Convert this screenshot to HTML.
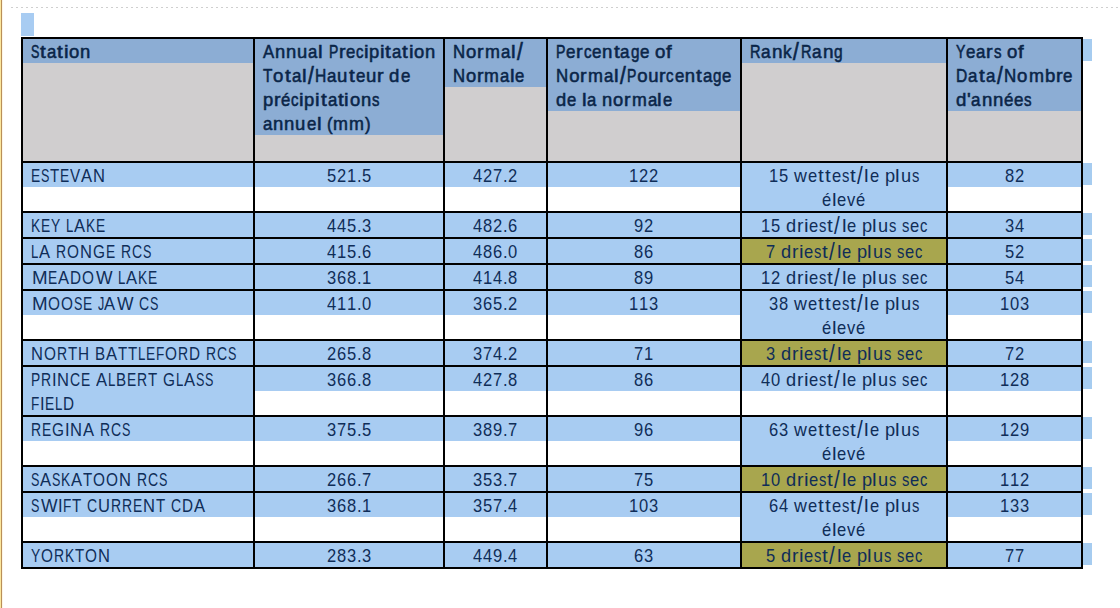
<!DOCTYPE html>
<html><head><meta charset="utf-8"><style>
html,body{margin:0;padding:0;background:#fff;width:1120px;height:608px;overflow:hidden;position:relative}
i{position:absolute;display:block}
p{position:absolute;margin:0;white-space:nowrap;font-family:"Liberation Sans",sans-serif;font-size:18.5px;line-height:24px;color:#0f2d58}
p.h{color:#0a2548;-webkit-text-stroke:0.55px #0a2548}
s{display:inline-block;text-decoration:none;transform-origin:0 0}
</style></head><body>
<i style="left:0px;top:0px;width:1px;height:608px;background:#fbe69c"></i>
<i style="left:1px;top:0px;width:1px;height:608px;background:#b98f58"></i>
<i style="left:2px;top:0px;width:1px;height:608px;background:#fdf6e6"></i>
<i style="left:11px;top:7px;width:1109px;height:1px;background:repeating-linear-gradient(90deg,#cfcfcf 0 2px,transparent 2px 5px)"></i>
<i style="left:21px;top:13px;width:13px;height:23px;background:#a8ccf2"></i>
<i style="left:23px;top:39px;width:230px;height:122px;background:#d0cecf"></i>
<i style="left:23px;top:39px;width:230px;height:24px;background:#8cadd4"></i>
<i style="left:255px;top:39px;width:188px;height:122px;background:#d0cecf"></i>
<i style="left:255px;top:39px;width:188px;height:96px;background:#8cadd4"></i>
<i style="left:445px;top:39px;width:101px;height:122px;background:#d0cecf"></i>
<i style="left:445px;top:39px;width:101px;height:48px;background:#8cadd4"></i>
<i style="left:548px;top:39px;width:192px;height:122px;background:#d0cecf"></i>
<i style="left:548px;top:39px;width:192px;height:72px;background:#8cadd4"></i>
<i style="left:742px;top:39px;width:204px;height:122px;background:#d0cecf"></i>
<i style="left:742px;top:39px;width:204px;height:24px;background:#8cadd4"></i>
<i style="left:948px;top:39px;width:133px;height:122px;background:#d0cecf"></i>
<i style="left:948px;top:39px;width:133px;height:72px;background:#8cadd4"></i>
<i style="left:1083px;top:39px;width:9px;height:22px;background:#a6ccf0"></i>
<p class="h" style="left:30.39px;top:40px;"><s style="width:12.339px;margin-left:0.365px;margin-right:-3.580px;transform:scaleX(0.680)">S</s><s style="width:5.140px;margin-left:0.670px;margin-right:1.287px;transform:scaleX(1.120)">t</s><s style="width:10.289px;margin-left:0.406px;margin-right:-0.556px;transform:scaleX(0.907)">a</s><s style="width:5.140px;margin-left:0.670px;margin-right:1.287px;transform:scaleX(1.120)">t</s><s style="width:4.110px;margin-left:0.233px;margin-right:0.726px;transform:scaleX(1.120)">i</s><s style="width:10.289px;margin-left:0.446px;margin-right:0.417px;transform:scaleX(0.997)">o</s><s style="width:10.289px;margin-left:0.446px;margin-right:0.417px;transform:scaleX(0.997)">n</s></p>
<p class="h" style="left:262.59px;top:40px;word-spacing:-0.090px;"><s style="width:12.339px;margin-left:0.485px;margin-right:-0.704px;transform:scaleX(0.904)">A</s><s style="width:10.289px;margin-left:0.444px;margin-right:0.377px;transform:scaleX(0.993)">n</s><s style="width:10.289px;margin-left:0.444px;margin-right:0.377px;transform:scaleX(0.993)">n</s><s style="width:10.289px;margin-left:0.444px;margin-right:0.377px;transform:scaleX(0.993)">u</s><s style="width:10.289px;margin-left:0.404px;margin-right:-0.593px;transform:scaleX(0.903)">a</s><s style="width:4.110px;margin-left:0.223px;margin-right:0.717px;transform:scaleX(1.120)">l</s> <s style="width:12.339px;margin-left:0.404px;margin-right:-2.643px;transform:scaleX(0.753)">P</s><s style="width:6.161px;margin-left:0.283px;margin-right:0.627px;transform:scaleX(1.056)">r</s><s style="width:10.289px;margin-left:0.404px;margin-right:-0.593px;transform:scaleX(0.903)">e</s><s style="width:9.250px;margin-left:0.323px;margin-right:-1.493px;transform:scaleX(0.804)">c</s><s style="width:4.110px;margin-left:0.223px;margin-right:0.717px;transform:scaleX(1.120)">i</s><s style="width:10.289px;margin-left:0.444px;margin-right:0.377px;transform:scaleX(0.993)">p</s><s style="width:4.110px;margin-left:0.223px;margin-right:0.717px;transform:scaleX(1.120)">i</s><s style="width:5.140px;margin-left:0.657px;margin-right:1.273px;transform:scaleX(1.120)">t</s><s style="width:10.289px;margin-left:0.404px;margin-right:-0.593px;transform:scaleX(0.903)">a</s><s style="width:5.140px;margin-left:0.657px;margin-right:1.273px;transform:scaleX(1.120)">t</s><s style="width:4.110px;margin-left:0.223px;margin-right:0.717px;transform:scaleX(1.120)">i</s><s style="width:10.289px;margin-left:0.444px;margin-right:0.377px;transform:scaleX(0.993)">o</s><s style="width:10.289px;margin-left:0.444px;margin-right:0.377px;transform:scaleX(0.993)">n</s></p>
<p class="h" style="left:262.58px;top:64px;word-spacing:-0.035px;"><s style="width:11.301px;margin-left:0.408px;margin-right:-1.499px;transform:scaleX(0.831)">T</s><s style="width:10.289px;margin-left:0.449px;margin-right:0.493px;transform:scaleX(1.004)">o</s><s style="width:5.140px;margin-left:0.695px;margin-right:1.312px;transform:scaleX(1.120)">t</s><s style="width:10.289px;margin-left:0.408px;margin-right:-0.487px;transform:scaleX(0.913)">a</s><s style="width:4.110px;margin-left:0.251px;margin-right:0.744px;transform:scaleX(1.120)">l</s><s style="width:5.140px;margin-left:1.206px;margin-right:1.822px;transform-origin:0 5px;transform:translateY(-1.4px) scale(1.120,1.28)">/</s><s style="width:13.360px;margin-left:0.490px;margin-right:-1.598px;transform:scaleX(0.844)">H</s><s style="width:10.289px;margin-left:0.408px;margin-right:-0.487px;transform:scaleX(0.913)">a</s><s style="width:10.289px;margin-left:0.449px;margin-right:0.493px;transform:scaleX(1.004)">u</s><s style="width:5.140px;margin-left:0.695px;margin-right:1.312px;transform:scaleX(1.120)">t</s><s style="width:10.289px;margin-left:0.408px;margin-right:-0.487px;transform:scaleX(0.913)">e</s><s style="width:10.289px;margin-left:0.449px;margin-right:0.493px;transform:scaleX(1.004)">u</s><s style="width:6.161px;margin-left:0.286px;margin-right:0.700px;transform:scaleX(1.067)">r</s> <s style="width:10.289px;margin-left:0.449px;margin-right:0.493px;transform:scaleX(1.004)">d</s><s style="width:10.289px;margin-left:0.408px;margin-right:-0.487px;transform:scaleX(0.913)">e</s></p>
<p class="h" style="left:262.59px;top:88px;"><s style="width:10.289px;margin-left:0.445px;margin-right:0.382px;transform:scaleX(0.994)">p</s><s style="width:6.161px;margin-left:0.283px;margin-right:0.630px;transform:scaleX(1.056)">r</s><s style="width:10.289px;margin-left:0.404px;margin-right:-0.588px;transform:scaleX(0.904)">é</s><s style="width:9.250px;margin-left:0.323px;margin-right:-1.489px;transform:scaleX(0.804)">c</s><s style="width:4.110px;margin-left:0.225px;margin-right:0.718px;transform:scaleX(1.120)">i</s><s style="width:10.289px;margin-left:0.445px;margin-right:0.382px;transform:scaleX(0.994)">p</s><s style="width:4.110px;margin-left:0.225px;margin-right:0.718px;transform:scaleX(1.120)">i</s><s style="width:5.140px;margin-left:0.659px;margin-right:1.275px;transform:scaleX(1.120)">t</s><s style="width:10.289px;margin-left:0.404px;margin-right:-0.588px;transform:scaleX(0.904)">a</s><s style="width:5.140px;margin-left:0.659px;margin-right:1.275px;transform:scaleX(1.120)">t</s><s style="width:4.110px;margin-left:0.225px;margin-right:0.718px;transform:scaleX(1.120)">i</s><s style="width:10.289px;margin-left:0.445px;margin-right:0.382px;transform:scaleX(0.994)">o</s><s style="width:10.289px;margin-left:0.445px;margin-right:0.382px;transform:scaleX(0.994)">n</s><s style="width:9.250px;margin-left:0.323px;margin-right:-1.489px;transform:scaleX(0.804)">s</s></p>
<p class="h" style="left:262.58px;top:112px;word-spacing:-0.064px;"><s style="width:10.289px;margin-left:0.406px;margin-right:-0.543px;transform:scaleX(0.908)">a</s><s style="width:10.289px;margin-left:0.447px;margin-right:0.432px;transform:scaleX(0.999)">n</s><s style="width:10.289px;margin-left:0.447px;margin-right:0.432px;transform:scaleX(0.999)">n</s><s style="width:10.289px;margin-left:0.447px;margin-right:0.432px;transform:scaleX(0.999)">u</s><s style="width:10.289px;margin-left:0.406px;margin-right:-0.543px;transform:scaleX(0.908)">e</s><s style="width:4.110px;margin-left:0.236px;margin-right:0.730px;transform:scaleX(1.120)">l</s> <s style="width:6.161px;margin-left:0.244px;margin-right:-0.313px;transform:scaleX(0.910)">(</s><s style="width:15.411px;margin-left:0.650px;margin-right:0.183px;transform:scaleX(0.970)">m</s><s style="width:15.411px;margin-left:0.650px;margin-right:0.183px;transform:scaleX(0.970)">m</s><s style="width:6.161px;margin-left:0.244px;margin-right:-0.313px;transform:scaleX(0.910)">)</s></p>
<p class="h" style="left:452.59px;top:40px;"><s style="width:13.360px;margin-left:0.528px;margin-right:-0.697px;transform:scaleX(0.908)">N</s><s style="width:10.289px;margin-left:0.446px;margin-right:0.426px;transform:scaleX(0.998)">o</s><s style="width:6.161px;margin-left:0.284px;margin-right:0.658px;transform:scaleX(1.061)">r</s><s style="width:15.411px;margin-left:0.649px;margin-right:0.175px;transform:scaleX(0.969)">m</s><s style="width:10.289px;margin-left:0.406px;margin-right:-0.548px;transform:scaleX(0.907)">a</s><s style="width:4.110px;margin-left:0.235px;margin-right:0.728px;transform:scaleX(1.120)">l</s><s style="width:5.140px;margin-left:1.180px;margin-right:1.797px;transform-origin:0 5px;transform:translateY(-1.4px) scale(1.120,1.28)">/</s></p>
<p class="h" style="left:452.59px;top:64px;"><s style="width:13.360px;margin-left:0.524px;margin-right:-0.773px;transform:scaleX(0.903)">N</s><s style="width:10.289px;margin-left:0.444px;margin-right:0.362px;transform:scaleX(0.992)">o</s><s style="width:6.161px;margin-left:0.282px;margin-right:0.617px;transform:scaleX(1.054)">r</s><s style="width:15.411px;margin-left:0.645px;margin-right:0.081px;transform:scaleX(0.963)">m</s><s style="width:10.289px;margin-left:0.403px;margin-right:-0.607px;transform:scaleX(0.902)">a</s><s style="width:4.110px;margin-left:0.220px;margin-right:0.713px;transform:scaleX(1.120)">l</s><s style="width:10.289px;margin-left:0.403px;margin-right:-0.607px;transform:scaleX(0.902)">e</s></p>
<p class="h" style="left:555.58px;top:40px;word-spacing:-0.015px;"><s style="width:12.339px;margin-left:0.410px;margin-right:-2.499px;transform:scaleX(0.764)">P</s><s style="width:10.289px;margin-left:0.410px;margin-right:-0.449px;transform:scaleX(0.917)">e</s><s style="width:6.161px;margin-left:0.287px;margin-right:0.727px;transform:scaleX(1.071)">r</s><s style="width:9.250px;margin-left:0.328px;margin-right:-1.378px;transform:scaleX(0.816)">c</s><s style="width:10.289px;margin-left:0.410px;margin-right:-0.449px;transform:scaleX(0.917)">e</s><s style="width:10.289px;margin-left:0.451px;margin-right:0.535px;transform:scaleX(1.008)">n</s><s style="width:5.140px;margin-left:0.709px;margin-right:1.326px;transform:scaleX(1.120)">t</s><s style="width:10.289px;margin-left:0.410px;margin-right:-0.449px;transform:scaleX(0.917)">a</s><s style="width:10.289px;margin-left:0.369px;margin-right:-1.433px;transform:scaleX(0.825)">g</s><s style="width:10.289px;margin-left:0.410px;margin-right:-0.449px;transform:scaleX(0.917)">e</s> <s style="width:10.289px;margin-left:0.451px;margin-right:0.535px;transform:scaleX(1.008)">o</s><s style="width:5.140px;margin-left:0.246px;margin-right:0.764px;transform:scaleX(1.101)">f</s></p>
<p class="h" style="left:555.58px;top:64px;"><s style="width:13.360px;margin-left:0.528px;margin-right:-0.677px;transform:scaleX(0.910)">N</s><s style="width:10.289px;margin-left:0.447px;margin-right:0.443px;transform:scaleX(1.000)">o</s><s style="width:6.161px;margin-left:0.285px;margin-right:0.669px;transform:scaleX(1.062)">r</s><s style="width:15.411px;margin-left:0.650px;margin-right:0.199px;transform:scaleX(0.971)">m</s><s style="width:10.289px;margin-left:0.407px;margin-right:-0.533px;transform:scaleX(0.909)">a</s><s style="width:4.110px;margin-left:0.239px;margin-right:0.732px;transform:scaleX(1.120)">l</s><s style="width:5.140px;margin-left:1.187px;margin-right:1.804px;transform-origin:0 5px;transform:translateY(-1.4px) scale(1.120,1.28)">/</s><s style="width:12.339px;margin-left:0.407px;margin-right:-2.583px;transform:scaleX(0.758)">P</s><s style="width:10.289px;margin-left:0.447px;margin-right:0.443px;transform:scaleX(1.000)">o</s><s style="width:10.289px;margin-left:0.447px;margin-right:0.443px;transform:scaleX(1.000)">u</s><s style="width:6.161px;margin-left:0.285px;margin-right:0.669px;transform:scaleX(1.062)">r</s><s style="width:9.250px;margin-left:0.325px;margin-right:-1.445px;transform:scaleX(0.809)">c</s><s style="width:10.289px;margin-left:0.407px;margin-right:-0.533px;transform:scaleX(0.909)">e</s><s style="width:10.289px;margin-left:0.447px;margin-right:0.443px;transform:scaleX(1.000)">n</s><s style="width:5.140px;margin-left:0.679px;margin-right:1.295px;transform:scaleX(1.120)">t</s><s style="width:10.289px;margin-left:0.407px;margin-right:-0.533px;transform:scaleX(0.909)">a</s><s style="width:10.289px;margin-left:0.366px;margin-right:-1.508px;transform:scaleX(0.818)">g</s><s style="width:10.289px;margin-left:0.407px;margin-right:-0.533px;transform:scaleX(0.909)">e</s></p>
<p class="h" style="left:555.59px;top:88px;word-spacing:-0.105px;"><s style="width:10.289px;margin-left:0.443px;margin-right:0.345px;transform:scaleX(0.990)">d</s><s style="width:10.289px;margin-left:0.403px;margin-right:-0.621px;transform:scaleX(0.900)">e</s> <s style="width:4.110px;margin-left:0.216px;margin-right:0.709px;transform:scaleX(1.120)">l</s><s style="width:10.289px;margin-left:0.403px;margin-right:-0.621px;transform:scaleX(0.900)">a</s> <s style="width:10.289px;margin-left:0.443px;margin-right:0.345px;transform:scaleX(0.990)">n</s><s style="width:10.289px;margin-left:0.443px;margin-right:0.345px;transform:scaleX(0.990)">o</s><s style="width:6.161px;margin-left:0.282px;margin-right:0.607px;transform:scaleX(1.053)">r</s><s style="width:15.411px;margin-left:0.644px;margin-right:0.057px;transform:scaleX(0.962)">m</s><s style="width:10.289px;margin-left:0.403px;margin-right:-0.621px;transform:scaleX(0.900)">a</s><s style="width:4.110px;margin-left:0.216px;margin-right:0.709px;transform:scaleX(1.120)">l</s><s style="width:10.289px;margin-left:0.403px;margin-right:-0.621px;transform:scaleX(0.900)">e</s></p>
<p class="h" style="left:749.56px;top:40px;"><s style="width:13.360px;margin-left:0.457px;margin-right:-2.392px;transform:scaleX(0.787)">R</s><s style="width:10.289px;margin-left:0.415px;margin-right:-0.318px;transform:scaleX(0.929)">a</s><s style="width:10.289px;margin-left:0.457px;margin-right:0.679px;transform:scaleX(1.022)">n</s><s style="width:9.250px;margin-left:0.374px;margin-right:-0.276px;transform:scaleX(0.930)">k</s><s style="width:5.140px;margin-left:1.276px;margin-right:1.893px;transform-origin:0 5px;transform:translateY(-1.4px) scale(1.120,1.28)">/</s><s style="width:13.360px;margin-left:0.457px;margin-right:-2.392px;transform:scaleX(0.787)">R</s><s style="width:10.289px;margin-left:0.415px;margin-right:-0.318px;transform:scaleX(0.929)">a</s><s style="width:10.289px;margin-left:0.457px;margin-right:0.679px;transform:scaleX(1.022)">n</s><s style="width:10.289px;margin-left:0.374px;margin-right:-1.315px;transform:scaleX(0.836)">g</s></p>
<p class="h" style="left:955.58px;top:40px;word-spacing:-0.040px;"><s style="width:12.339px;margin-left:0.408px;margin-right:-2.547px;transform:scaleX(0.760)">Y</s><s style="width:10.289px;margin-left:0.408px;margin-right:-0.497px;transform:scaleX(0.912)">e</s><s style="width:10.289px;margin-left:0.408px;margin-right:-0.497px;transform:scaleX(0.912)">a</s><s style="width:6.161px;margin-left:0.286px;margin-right:0.694px;transform:scaleX(1.066)">r</s><s style="width:9.250px;margin-left:0.326px;margin-right:-1.416px;transform:scaleX(0.812)">s</s> <s style="width:10.289px;margin-left:0.449px;margin-right:0.482px;transform:scaleX(1.003)">o</s><s style="width:5.140px;margin-left:0.245px;margin-right:0.735px;transform:scaleX(1.095)">f</s></p>
<p class="h" style="left:955.58px;top:64px;"><s style="width:13.360px;margin-left:0.490px;margin-right:-1.606px;transform:scaleX(0.843)">D</s><s style="width:10.289px;margin-left:0.408px;margin-right:-0.493px;transform:scaleX(0.912)">a</s><s style="width:5.140px;margin-left:0.693px;margin-right:1.310px;transform:scaleX(1.120)">t</s><s style="width:10.289px;margin-left:0.408px;margin-right:-0.493px;transform:scaleX(0.912)">a</s><s style="width:5.140px;margin-left:1.203px;margin-right:1.820px;transform-origin:0 5px;transform:translateY(-1.4px) scale(1.120,1.28)">/</s><s style="width:13.360px;margin-left:0.531px;margin-right:-0.626px;transform:scaleX(0.913)">N</s><s style="width:10.289px;margin-left:0.449px;margin-right:0.486px;transform:scaleX(1.004)">o</s><s style="width:15.411px;margin-left:0.653px;margin-right:0.262px;transform:scaleX(0.975)">m</s><s style="width:10.289px;margin-left:0.449px;margin-right:0.486px;transform:scaleX(1.004)">b</s><s style="width:6.161px;margin-left:0.286px;margin-right:0.696px;transform:scaleX(1.067)">r</s><s style="width:10.289px;margin-left:0.408px;margin-right:-0.493px;transform:scaleX(0.912)">e</s></p>
<p class="h" style="left:955.58px;top:88px;"><s style="width:10.289px;margin-left:0.450px;margin-right:0.517px;transform:scaleX(1.006)">d</s><s style="width:3.532px;margin-left:0.164px;margin-right:0.397px;transform:scaleX(1.066)">'</s><s style="width:10.289px;margin-left:0.409px;margin-right:-0.465px;transform:scaleX(0.915)">a</s><s style="width:10.289px;margin-left:0.450px;margin-right:0.517px;transform:scaleX(1.006)">n</s><s style="width:10.289px;margin-left:0.450px;margin-right:0.517px;transform:scaleX(1.006)">n</s><s style="width:10.289px;margin-left:0.409px;margin-right:-0.465px;transform:scaleX(0.915)">é</s><s style="width:10.289px;margin-left:0.409px;margin-right:-0.465px;transform:scaleX(0.915)">e</s><s style="width:9.250px;margin-left:0.327px;margin-right:-1.391px;transform:scaleX(0.814)">s</s></p>
<i style="left:23px;top:163px;width:230px;height:24px;background:#a8ccf2"></i>
<i style="left:255px;top:163px;width:188px;height:24px;background:#a8ccf2"></i>
<i style="left:445px;top:163px;width:101px;height:24px;background:#a8ccf2"></i>
<i style="left:548px;top:163px;width:192px;height:24px;background:#a8ccf2"></i>
<i style="left:742px;top:163px;width:204px;height:48px;background:#a8ccf2"></i>
<i style="left:948px;top:163px;width:133px;height:24px;background:#a8ccf2"></i>
<i style="left:1083px;top:163px;width:9px;height:22px;background:#a6ccf0"></i>
<p class="t" style="left:30.90px;top:164px;"><s style="width:12.339px;margin-left:0.400px;margin-right:-2.739px;transform:scaleX(0.746)">E</s><s style="width:12.339px;margin-left:0.305px;margin-right:-3.644px;transform:scaleX(0.680)">S</s><s style="width:11.301px;margin-left:0.400px;margin-right:-1.701px;transform:scaleX(0.814)">T</s><s style="width:12.339px;margin-left:0.400px;margin-right:-2.739px;transform:scaleX(0.746)">E</s><s style="width:12.339px;margin-left:0.440px;margin-right:-1.779px;transform:scaleX(0.820)">V</s><s style="width:12.339px;margin-left:0.480px;margin-right:-0.819px;transform:scaleX(0.895)">A</s><s style="width:13.360px;margin-left:0.520px;margin-right:-0.880px;transform:scaleX(0.895)">N</s></p>
<p class="t" style="left:326.50px;top:164px;"><s style="width:10.289px;margin-left:0.400px;margin-right:-0.689px;transform:scaleX(0.894)">5</s><s style="width:10.289px;margin-left:0.400px;margin-right:-0.689px;transform:scaleX(0.894)">2</s><s style="width:10.289px;margin-left:0.400px;margin-right:-0.689px;transform:scaleX(0.894)">1</s><s style="width:5.140px;margin-left:0.200px;margin-right:-0.340px;transform:scaleX(0.895)">.</s><s style="width:10.289px;margin-left:0.400px;margin-right:-0.689px;transform:scaleX(0.894)">5</s></p>
<p class="t" style="left:473.00px;top:164px;"><s style="width:10.289px;margin-left:0.400px;margin-right:-0.689px;transform:scaleX(0.894)">4</s><s style="width:10.289px;margin-left:0.400px;margin-right:-0.689px;transform:scaleX(0.894)">2</s><s style="width:10.289px;margin-left:0.400px;margin-right:-0.689px;transform:scaleX(0.894)">7</s><s style="width:5.140px;margin-left:0.200px;margin-right:-0.340px;transform:scaleX(0.895)">.</s><s style="width:10.289px;margin-left:0.400px;margin-right:-0.689px;transform:scaleX(0.894)">2</s></p>
<p class="t" style="left:629.00px;top:164px;"><s style="width:10.289px;margin-left:0.400px;margin-right:-0.689px;transform:scaleX(0.894)">1</s><s style="width:10.289px;margin-left:0.400px;margin-right:-0.689px;transform:scaleX(0.894)">2</s><s style="width:10.289px;margin-left:0.400px;margin-right:-0.689px;transform:scaleX(0.894)">2</s></p>
<p class="t" style="left:768.50px;top:164px;word-spacing:-0.140px;"><s style="width:10.289px;margin-left:0.400px;margin-right:-0.689px;transform:scaleX(0.894)">1</s><s style="width:10.289px;margin-left:0.400px;margin-right:-0.689px;transform:scaleX(0.894)">5</s> <s style="width:13.360px;margin-left:0.560px;margin-right:0.080px;transform:scaleX(0.964)">w</s><s style="width:10.289px;margin-left:0.400px;margin-right:-0.689px;transform:scaleX(0.894)">e</s><s style="width:5.140px;margin-left:0.622px;margin-right:1.238px;transform:scaleX(1.120)">t</s><s style="width:5.140px;margin-left:0.622px;margin-right:1.238px;transform:scaleX(1.120)">t</s><s style="width:10.289px;margin-left:0.400px;margin-right:-0.689px;transform:scaleX(0.894)">e</s><s style="width:9.250px;margin-left:0.320px;margin-right:-1.570px;transform:scaleX(0.796)">s</s><s style="width:5.140px;margin-left:0.622px;margin-right:1.238px;transform:scaleX(1.120)">t</s><s style="width:5.140px;margin-left:1.122px;margin-right:1.738px;transform-origin:0 5px;transform:translateY(-1.4px) scale(1.120,1.28)">/</s><s style="width:4.110px;margin-left:0.200px;margin-right:0.690px;transform:scaleX(1.119)">l</s><s style="width:10.289px;margin-left:0.400px;margin-right:-0.689px;transform:scaleX(0.894)">e</s> <s style="width:10.289px;margin-left:0.440px;margin-right:0.271px;transform:scaleX(0.984)">p</s><s style="width:4.110px;margin-left:0.200px;margin-right:0.690px;transform:scaleX(1.119)">l</s><s style="width:10.289px;margin-left:0.440px;margin-right:0.271px;transform:scaleX(0.984)">u</s><s style="width:9.250px;margin-left:0.320px;margin-right:-1.570px;transform:scaleX(0.796)">s</s></p>
<p class="t" style="left:822.00px;top:188px;"><s style="width:10.289px;margin-left:0.400px;margin-right:-0.689px;transform:scaleX(0.894)">é</s><s style="width:4.110px;margin-left:0.200px;margin-right:0.690px;transform:scaleX(1.119)">l</s><s style="width:10.289px;margin-left:0.400px;margin-right:-0.689px;transform:scaleX(0.894)">e</s><s style="width:9.250px;margin-left:0.360px;margin-right:-0.610px;transform:scaleX(0.895)">v</s><s style="width:10.289px;margin-left:0.400px;margin-right:-0.689px;transform:scaleX(0.894)">é</s></p>
<p class="t" style="left:1004.50px;top:164px;"><s style="width:10.289px;margin-left:0.400px;margin-right:-0.689px;transform:scaleX(0.894)">8</s><s style="width:10.289px;margin-left:0.400px;margin-right:-0.689px;transform:scaleX(0.894)">2</s></p>
<i style="left:23px;top:213px;width:230px;height:24px;background:#a8ccf2"></i>
<i style="left:255px;top:213px;width:188px;height:24px;background:#a8ccf2"></i>
<i style="left:445px;top:213px;width:101px;height:24px;background:#a8ccf2"></i>
<i style="left:548px;top:213px;width:192px;height:24px;background:#a8ccf2"></i>
<i style="left:742px;top:213px;width:204px;height:24px;background:#a8ccf2"></i>
<i style="left:948px;top:213px;width:133px;height:24px;background:#a8ccf2"></i>
<i style="left:1083px;top:213px;width:9px;height:22px;background:#a6ccf0"></i>
<p class="t" style="left:30.90px;top:214px;word-spacing:-0.140px;"><s style="width:12.339px;margin-left:0.400px;margin-right:-2.739px;transform:scaleX(0.746)">K</s><s style="width:12.339px;margin-left:0.400px;margin-right:-2.739px;transform:scaleX(0.746)">E</s><s style="width:12.339px;margin-left:0.400px;margin-right:-2.739px;transform:scaleX(0.746)">Y</s> <s style="width:10.289px;margin-left:0.320px;margin-right:-2.609px;transform:scaleX(0.715)">L</s><s style="width:12.339px;margin-left:0.480px;margin-right:-0.819px;transform:scaleX(0.895)">A</s><s style="width:12.339px;margin-left:0.400px;margin-right:-2.739px;transform:scaleX(0.746)">K</s><s style="width:12.339px;margin-left:0.400px;margin-right:-2.739px;transform:scaleX(0.746)">E</s></p>
<p class="t" style="left:326.50px;top:214px;"><s style="width:10.289px;margin-left:0.400px;margin-right:-0.689px;transform:scaleX(0.894)">4</s><s style="width:10.289px;margin-left:0.400px;margin-right:-0.689px;transform:scaleX(0.894)">4</s><s style="width:10.289px;margin-left:0.400px;margin-right:-0.689px;transform:scaleX(0.894)">5</s><s style="width:5.140px;margin-left:0.200px;margin-right:-0.340px;transform:scaleX(0.895)">.</s><s style="width:10.289px;margin-left:0.400px;margin-right:-0.689px;transform:scaleX(0.894)">3</s></p>
<p class="t" style="left:473.00px;top:214px;"><s style="width:10.289px;margin-left:0.400px;margin-right:-0.689px;transform:scaleX(0.894)">4</s><s style="width:10.289px;margin-left:0.400px;margin-right:-0.689px;transform:scaleX(0.894)">8</s><s style="width:10.289px;margin-left:0.400px;margin-right:-0.689px;transform:scaleX(0.894)">2</s><s style="width:5.140px;margin-left:0.200px;margin-right:-0.340px;transform:scaleX(0.895)">.</s><s style="width:10.289px;margin-left:0.400px;margin-right:-0.689px;transform:scaleX(0.894)">6</s></p>
<p class="t" style="left:634.00px;top:214px;"><s style="width:10.289px;margin-left:0.400px;margin-right:-0.689px;transform:scaleX(0.894)">9</s><s style="width:10.289px;margin-left:0.400px;margin-right:-0.689px;transform:scaleX(0.894)">2</s></p>
<p class="t" style="left:760.50px;top:214px;word-spacing:-0.140px;"><s style="width:10.289px;margin-left:0.400px;margin-right:-0.689px;transform:scaleX(0.894)">1</s><s style="width:10.289px;margin-left:0.400px;margin-right:-0.689px;transform:scaleX(0.894)">5</s> <s style="width:10.289px;margin-left:0.440px;margin-right:0.271px;transform:scaleX(0.984)">d</s><s style="width:6.161px;margin-left:0.280px;margin-right:0.559px;transform:scaleX(1.045)">r</s><s style="width:4.110px;margin-left:0.200px;margin-right:0.690px;transform:scaleX(1.119)">i</s><s style="width:10.289px;margin-left:0.400px;margin-right:-0.689px;transform:scaleX(0.894)">e</s><s style="width:9.250px;margin-left:0.320px;margin-right:-1.570px;transform:scaleX(0.796)">s</s><s style="width:5.140px;margin-left:0.622px;margin-right:1.238px;transform:scaleX(1.120)">t</s><s style="width:5.140px;margin-left:1.122px;margin-right:1.738px;transform-origin:0 5px;transform:translateY(-1.4px) scale(1.120,1.28)">/</s><s style="width:4.110px;margin-left:0.200px;margin-right:0.690px;transform:scaleX(1.119)">l</s><s style="width:10.289px;margin-left:0.400px;margin-right:-0.689px;transform:scaleX(0.894)">e</s> <s style="width:10.289px;margin-left:0.440px;margin-right:0.271px;transform:scaleX(0.984)">p</s><s style="width:4.110px;margin-left:0.200px;margin-right:0.690px;transform:scaleX(1.119)">l</s><s style="width:10.289px;margin-left:0.440px;margin-right:0.271px;transform:scaleX(0.984)">u</s><s style="width:9.250px;margin-left:0.320px;margin-right:-1.570px;transform:scaleX(0.796)">s</s> <s style="width:9.250px;margin-left:0.320px;margin-right:-1.570px;transform:scaleX(0.796)">s</s><s style="width:10.289px;margin-left:0.400px;margin-right:-0.689px;transform:scaleX(0.894)">e</s><s style="width:9.250px;margin-left:0.320px;margin-right:-1.570px;transform:scaleX(0.796)">c</s></p>
<p class="t" style="left:1004.50px;top:214px;"><s style="width:10.289px;margin-left:0.400px;margin-right:-0.689px;transform:scaleX(0.894)">3</s><s style="width:10.289px;margin-left:0.400px;margin-right:-0.689px;transform:scaleX(0.894)">4</s></p>
<i style="left:23px;top:239px;width:230px;height:24px;background:#a8ccf2"></i>
<i style="left:255px;top:239px;width:188px;height:24px;background:#a8ccf2"></i>
<i style="left:445px;top:239px;width:101px;height:24px;background:#a8ccf2"></i>
<i style="left:548px;top:239px;width:192px;height:24px;background:#a8ccf2"></i>
<i style="left:742px;top:239px;width:204px;height:24px;background:#a8a64e"></i>
<i style="left:948px;top:239px;width:133px;height:24px;background:#a8ccf2"></i>
<i style="left:1083px;top:239px;width:9px;height:22px;background:#a6ccf0"></i>
<p class="t" style="left:30.90px;top:240px;word-spacing:-0.140px;"><s style="width:10.289px;margin-left:0.320px;margin-right:-2.609px;transform:scaleX(0.715)">L</s><s style="width:12.339px;margin-left:0.480px;margin-right:-0.819px;transform:scaleX(0.895)">A</s> <s style="width:13.360px;margin-left:0.440px;margin-right:-2.800px;transform:scaleX(0.757)">R</s><s style="width:14.390px;margin-left:0.520px;margin-right:-1.910px;transform:scaleX(0.831)">O</s><s style="width:13.360px;margin-left:0.520px;margin-right:-0.880px;transform:scaleX(0.895)">N</s><s style="width:14.390px;margin-left:0.520px;margin-right:-1.910px;transform:scaleX(0.831)">G</s><s style="width:12.339px;margin-left:0.400px;margin-right:-2.739px;transform:scaleX(0.746)">E</s> <s style="width:13.360px;margin-left:0.440px;margin-right:-2.800px;transform:scaleX(0.757)">R</s><s style="width:13.360px;margin-left:0.440px;margin-right:-2.800px;transform:scaleX(0.757)">C</s><s style="width:12.339px;margin-left:0.305px;margin-right:-3.644px;transform:scaleX(0.680)">S</s></p>
<p class="t" style="left:326.50px;top:240px;"><s style="width:10.289px;margin-left:0.400px;margin-right:-0.689px;transform:scaleX(0.894)">4</s><s style="width:10.289px;margin-left:0.400px;margin-right:-0.689px;transform:scaleX(0.894)">1</s><s style="width:10.289px;margin-left:0.400px;margin-right:-0.689px;transform:scaleX(0.894)">5</s><s style="width:5.140px;margin-left:0.200px;margin-right:-0.340px;transform:scaleX(0.895)">.</s><s style="width:10.289px;margin-left:0.400px;margin-right:-0.689px;transform:scaleX(0.894)">6</s></p>
<p class="t" style="left:473.00px;top:240px;"><s style="width:10.289px;margin-left:0.400px;margin-right:-0.689px;transform:scaleX(0.894)">4</s><s style="width:10.289px;margin-left:0.400px;margin-right:-0.689px;transform:scaleX(0.894)">8</s><s style="width:10.289px;margin-left:0.400px;margin-right:-0.689px;transform:scaleX(0.894)">6</s><s style="width:5.140px;margin-left:0.200px;margin-right:-0.340px;transform:scaleX(0.895)">.</s><s style="width:10.289px;margin-left:0.400px;margin-right:-0.689px;transform:scaleX(0.894)">0</s></p>
<p class="t" style="left:634.00px;top:240px;"><s style="width:10.289px;margin-left:0.400px;margin-right:-0.689px;transform:scaleX(0.894)">8</s><s style="width:10.289px;margin-left:0.400px;margin-right:-0.689px;transform:scaleX(0.894)">6</s></p>
<p class="t" style="left:765.50px;top:240px;word-spacing:-0.140px;"><s style="width:10.289px;margin-left:0.400px;margin-right:-0.689px;transform:scaleX(0.894)">7</s> <s style="width:10.289px;margin-left:0.440px;margin-right:0.271px;transform:scaleX(0.984)">d</s><s style="width:6.161px;margin-left:0.280px;margin-right:0.559px;transform:scaleX(1.045)">r</s><s style="width:4.110px;margin-left:0.200px;margin-right:0.690px;transform:scaleX(1.119)">i</s><s style="width:10.289px;margin-left:0.400px;margin-right:-0.689px;transform:scaleX(0.894)">e</s><s style="width:9.250px;margin-left:0.320px;margin-right:-1.570px;transform:scaleX(0.796)">s</s><s style="width:5.140px;margin-left:0.622px;margin-right:1.238px;transform:scaleX(1.120)">t</s><s style="width:5.140px;margin-left:1.122px;margin-right:1.738px;transform-origin:0 5px;transform:translateY(-1.4px) scale(1.120,1.28)">/</s><s style="width:4.110px;margin-left:0.200px;margin-right:0.690px;transform:scaleX(1.119)">l</s><s style="width:10.289px;margin-left:0.400px;margin-right:-0.689px;transform:scaleX(0.894)">e</s> <s style="width:10.289px;margin-left:0.440px;margin-right:0.271px;transform:scaleX(0.984)">p</s><s style="width:4.110px;margin-left:0.200px;margin-right:0.690px;transform:scaleX(1.119)">l</s><s style="width:10.289px;margin-left:0.440px;margin-right:0.271px;transform:scaleX(0.984)">u</s><s style="width:9.250px;margin-left:0.320px;margin-right:-1.570px;transform:scaleX(0.796)">s</s> <s style="width:9.250px;margin-left:0.320px;margin-right:-1.570px;transform:scaleX(0.796)">s</s><s style="width:10.289px;margin-left:0.400px;margin-right:-0.689px;transform:scaleX(0.894)">e</s><s style="width:9.250px;margin-left:0.320px;margin-right:-1.570px;transform:scaleX(0.796)">c</s></p>
<p class="t" style="left:1004.50px;top:240px;"><s style="width:10.289px;margin-left:0.400px;margin-right:-0.689px;transform:scaleX(0.894)">5</s><s style="width:10.289px;margin-left:0.400px;margin-right:-0.689px;transform:scaleX(0.894)">2</s></p>
<i style="left:23px;top:265px;width:230px;height:24px;background:#a8ccf2"></i>
<i style="left:255px;top:265px;width:188px;height:24px;background:#a8ccf2"></i>
<i style="left:445px;top:265px;width:101px;height:24px;background:#a8ccf2"></i>
<i style="left:548px;top:265px;width:192px;height:24px;background:#a8ccf2"></i>
<i style="left:742px;top:265px;width:204px;height:24px;background:#a8ccf2"></i>
<i style="left:948px;top:265px;width:133px;height:24px;background:#a8ccf2"></i>
<i style="left:1083px;top:265px;width:9px;height:22px;background:#a6ccf0"></i>
<p class="t" style="left:30.90px;top:266px;word-spacing:-0.140px;"><s style="width:15.411px;margin-left:0.680px;margin-right:0.909px;transform:scaleX(1.015)">M</s><s style="width:12.339px;margin-left:0.400px;margin-right:-2.739px;transform:scaleX(0.746)">E</s><s style="width:12.339px;margin-left:0.480px;margin-right:-0.819px;transform:scaleX(0.895)">A</s><s style="width:13.360px;margin-left:0.480px;margin-right:-1.840px;transform:scaleX(0.826)">D</s><s style="width:14.390px;margin-left:0.520px;margin-right:-1.910px;transform:scaleX(0.831)">O</s><s style="width:17.461px;margin-left:0.720px;margin-right:-0.181px;transform:scaleX(0.948)">W</s> <s style="width:10.289px;margin-left:0.320px;margin-right:-2.609px;transform:scaleX(0.715)">L</s><s style="width:12.339px;margin-left:0.480px;margin-right:-0.819px;transform:scaleX(0.895)">A</s><s style="width:12.339px;margin-left:0.400px;margin-right:-2.739px;transform:scaleX(0.746)">K</s><s style="width:12.339px;margin-left:0.400px;margin-right:-2.739px;transform:scaleX(0.746)">E</s></p>
<p class="t" style="left:326.50px;top:266px;"><s style="width:10.289px;margin-left:0.400px;margin-right:-0.689px;transform:scaleX(0.894)">3</s><s style="width:10.289px;margin-left:0.400px;margin-right:-0.689px;transform:scaleX(0.894)">6</s><s style="width:10.289px;margin-left:0.400px;margin-right:-0.689px;transform:scaleX(0.894)">8</s><s style="width:5.140px;margin-left:0.200px;margin-right:-0.340px;transform:scaleX(0.895)">.</s><s style="width:10.289px;margin-left:0.400px;margin-right:-0.689px;transform:scaleX(0.894)">1</s></p>
<p class="t" style="left:473.00px;top:266px;"><s style="width:10.289px;margin-left:0.400px;margin-right:-0.689px;transform:scaleX(0.894)">4</s><s style="width:10.289px;margin-left:0.400px;margin-right:-0.689px;transform:scaleX(0.894)">1</s><s style="width:10.289px;margin-left:0.400px;margin-right:-0.689px;transform:scaleX(0.894)">4</s><s style="width:5.140px;margin-left:0.200px;margin-right:-0.340px;transform:scaleX(0.895)">.</s><s style="width:10.289px;margin-left:0.400px;margin-right:-0.689px;transform:scaleX(0.894)">8</s></p>
<p class="t" style="left:634.00px;top:266px;"><s style="width:10.289px;margin-left:0.400px;margin-right:-0.689px;transform:scaleX(0.894)">8</s><s style="width:10.289px;margin-left:0.400px;margin-right:-0.689px;transform:scaleX(0.894)">9</s></p>
<p class="t" style="left:760.50px;top:266px;word-spacing:-0.140px;"><s style="width:10.289px;margin-left:0.400px;margin-right:-0.689px;transform:scaleX(0.894)">1</s><s style="width:10.289px;margin-left:0.400px;margin-right:-0.689px;transform:scaleX(0.894)">2</s> <s style="width:10.289px;margin-left:0.440px;margin-right:0.271px;transform:scaleX(0.984)">d</s><s style="width:6.161px;margin-left:0.280px;margin-right:0.559px;transform:scaleX(1.045)">r</s><s style="width:4.110px;margin-left:0.200px;margin-right:0.690px;transform:scaleX(1.119)">i</s><s style="width:10.289px;margin-left:0.400px;margin-right:-0.689px;transform:scaleX(0.894)">e</s><s style="width:9.250px;margin-left:0.320px;margin-right:-1.570px;transform:scaleX(0.796)">s</s><s style="width:5.140px;margin-left:0.622px;margin-right:1.238px;transform:scaleX(1.120)">t</s><s style="width:5.140px;margin-left:1.122px;margin-right:1.738px;transform-origin:0 5px;transform:translateY(-1.4px) scale(1.120,1.28)">/</s><s style="width:4.110px;margin-left:0.200px;margin-right:0.690px;transform:scaleX(1.119)">l</s><s style="width:10.289px;margin-left:0.400px;margin-right:-0.689px;transform:scaleX(0.894)">e</s> <s style="width:10.289px;margin-left:0.440px;margin-right:0.271px;transform:scaleX(0.984)">p</s><s style="width:4.110px;margin-left:0.200px;margin-right:0.690px;transform:scaleX(1.119)">l</s><s style="width:10.289px;margin-left:0.440px;margin-right:0.271px;transform:scaleX(0.984)">u</s><s style="width:9.250px;margin-left:0.320px;margin-right:-1.570px;transform:scaleX(0.796)">s</s> <s style="width:9.250px;margin-left:0.320px;margin-right:-1.570px;transform:scaleX(0.796)">s</s><s style="width:10.289px;margin-left:0.400px;margin-right:-0.689px;transform:scaleX(0.894)">e</s><s style="width:9.250px;margin-left:0.320px;margin-right:-1.570px;transform:scaleX(0.796)">c</s></p>
<p class="t" style="left:1004.50px;top:266px;"><s style="width:10.289px;margin-left:0.400px;margin-right:-0.689px;transform:scaleX(0.894)">5</s><s style="width:10.289px;margin-left:0.400px;margin-right:-0.689px;transform:scaleX(0.894)">4</s></p>
<i style="left:23px;top:291px;width:230px;height:24px;background:#a8ccf2"></i>
<i style="left:255px;top:291px;width:188px;height:24px;background:#a8ccf2"></i>
<i style="left:445px;top:291px;width:101px;height:24px;background:#a8ccf2"></i>
<i style="left:548px;top:291px;width:192px;height:24px;background:#a8ccf2"></i>
<i style="left:742px;top:291px;width:204px;height:48px;background:#a8ccf2"></i>
<i style="left:948px;top:291px;width:133px;height:24px;background:#a8ccf2"></i>
<i style="left:1083px;top:291px;width:9px;height:22px;background:#a6ccf0"></i>
<p class="t" style="left:30.90px;top:292px;word-spacing:-0.140px;"><s style="width:15.411px;margin-left:0.680px;margin-right:0.909px;transform:scaleX(1.015)">M</s><s style="width:14.390px;margin-left:0.520px;margin-right:-1.910px;transform:scaleX(0.831)">O</s><s style="width:14.390px;margin-left:0.520px;margin-right:-1.910px;transform:scaleX(0.831)">O</s><s style="width:12.339px;margin-left:0.305px;margin-right:-3.644px;transform:scaleX(0.680)">S</s><s style="width:12.339px;margin-left:0.400px;margin-right:-2.739px;transform:scaleX(0.746)">E</s> <s style="width:9.250px;margin-left:-0.145px;margin-right:-3.105px;transform:scaleX(0.680)">J</s><s style="width:12.339px;margin-left:0.480px;margin-right:-0.819px;transform:scaleX(0.895)">A</s><s style="width:17.461px;margin-left:0.720px;margin-right:-0.181px;transform:scaleX(0.948)">W</s> <s style="width:13.360px;margin-left:0.440px;margin-right:-2.800px;transform:scaleX(0.757)">C</s><s style="width:12.339px;margin-left:0.305px;margin-right:-3.644px;transform:scaleX(0.680)">S</s></p>
<p class="t" style="left:326.50px;top:292px;"><s style="width:10.289px;margin-left:0.400px;margin-right:-0.689px;transform:scaleX(0.894)">4</s><s style="width:10.289px;margin-left:0.400px;margin-right:-0.689px;transform:scaleX(0.894)">1</s><s style="width:10.289px;margin-left:0.400px;margin-right:-0.689px;transform:scaleX(0.894)">1</s><s style="width:5.140px;margin-left:0.200px;margin-right:-0.340px;transform:scaleX(0.895)">.</s><s style="width:10.289px;margin-left:0.400px;margin-right:-0.689px;transform:scaleX(0.894)">0</s></p>
<p class="t" style="left:473.00px;top:292px;"><s style="width:10.289px;margin-left:0.400px;margin-right:-0.689px;transform:scaleX(0.894)">3</s><s style="width:10.289px;margin-left:0.400px;margin-right:-0.689px;transform:scaleX(0.894)">6</s><s style="width:10.289px;margin-left:0.400px;margin-right:-0.689px;transform:scaleX(0.894)">5</s><s style="width:5.140px;margin-left:0.200px;margin-right:-0.340px;transform:scaleX(0.895)">.</s><s style="width:10.289px;margin-left:0.400px;margin-right:-0.689px;transform:scaleX(0.894)">2</s></p>
<p class="t" style="left:629.00px;top:292px;"><s style="width:10.289px;margin-left:0.400px;margin-right:-0.689px;transform:scaleX(0.894)">1</s><s style="width:10.289px;margin-left:0.400px;margin-right:-0.689px;transform:scaleX(0.894)">1</s><s style="width:10.289px;margin-left:0.400px;margin-right:-0.689px;transform:scaleX(0.894)">3</s></p>
<p class="t" style="left:768.50px;top:292px;word-spacing:-0.140px;"><s style="width:10.289px;margin-left:0.400px;margin-right:-0.689px;transform:scaleX(0.894)">3</s><s style="width:10.289px;margin-left:0.400px;margin-right:-0.689px;transform:scaleX(0.894)">8</s> <s style="width:13.360px;margin-left:0.560px;margin-right:0.080px;transform:scaleX(0.964)">w</s><s style="width:10.289px;margin-left:0.400px;margin-right:-0.689px;transform:scaleX(0.894)">e</s><s style="width:5.140px;margin-left:0.622px;margin-right:1.238px;transform:scaleX(1.120)">t</s><s style="width:5.140px;margin-left:0.622px;margin-right:1.238px;transform:scaleX(1.120)">t</s><s style="width:10.289px;margin-left:0.400px;margin-right:-0.689px;transform:scaleX(0.894)">e</s><s style="width:9.250px;margin-left:0.320px;margin-right:-1.570px;transform:scaleX(0.796)">s</s><s style="width:5.140px;margin-left:0.622px;margin-right:1.238px;transform:scaleX(1.120)">t</s><s style="width:5.140px;margin-left:1.122px;margin-right:1.738px;transform-origin:0 5px;transform:translateY(-1.4px) scale(1.120,1.28)">/</s><s style="width:4.110px;margin-left:0.200px;margin-right:0.690px;transform:scaleX(1.119)">l</s><s style="width:10.289px;margin-left:0.400px;margin-right:-0.689px;transform:scaleX(0.894)">e</s> <s style="width:10.289px;margin-left:0.440px;margin-right:0.271px;transform:scaleX(0.984)">p</s><s style="width:4.110px;margin-left:0.200px;margin-right:0.690px;transform:scaleX(1.119)">l</s><s style="width:10.289px;margin-left:0.440px;margin-right:0.271px;transform:scaleX(0.984)">u</s><s style="width:9.250px;margin-left:0.320px;margin-right:-1.570px;transform:scaleX(0.796)">s</s></p>
<p class="t" style="left:822.00px;top:316px;"><s style="width:10.289px;margin-left:0.400px;margin-right:-0.689px;transform:scaleX(0.894)">é</s><s style="width:4.110px;margin-left:0.200px;margin-right:0.690px;transform:scaleX(1.119)">l</s><s style="width:10.289px;margin-left:0.400px;margin-right:-0.689px;transform:scaleX(0.894)">e</s><s style="width:9.250px;margin-left:0.360px;margin-right:-0.610px;transform:scaleX(0.895)">v</s><s style="width:10.289px;margin-left:0.400px;margin-right:-0.689px;transform:scaleX(0.894)">é</s></p>
<p class="t" style="left:999.50px;top:292px;"><s style="width:10.289px;margin-left:0.400px;margin-right:-0.689px;transform:scaleX(0.894)">1</s><s style="width:10.289px;margin-left:0.400px;margin-right:-0.689px;transform:scaleX(0.894)">0</s><s style="width:10.289px;margin-left:0.400px;margin-right:-0.689px;transform:scaleX(0.894)">3</s></p>
<i style="left:23px;top:341px;width:230px;height:24px;background:#a8ccf2"></i>
<i style="left:255px;top:341px;width:188px;height:24px;background:#a8ccf2"></i>
<i style="left:445px;top:341px;width:101px;height:24px;background:#a8ccf2"></i>
<i style="left:548px;top:341px;width:192px;height:24px;background:#a8ccf2"></i>
<i style="left:742px;top:341px;width:204px;height:24px;background:#a8a64e"></i>
<i style="left:948px;top:341px;width:133px;height:24px;background:#a8ccf2"></i>
<i style="left:1083px;top:341px;width:9px;height:22px;background:#a6ccf0"></i>
<p class="t" style="left:30.90px;top:342px;word-spacing:-0.140px;"><s style="width:13.360px;margin-left:0.520px;margin-right:-0.880px;transform:scaleX(0.895)">N</s><s style="width:14.390px;margin-left:0.520px;margin-right:-1.910px;transform:scaleX(0.831)">O</s><s style="width:13.360px;margin-left:0.440px;margin-right:-2.800px;transform:scaleX(0.757)">R</s><s style="width:11.301px;margin-left:0.400px;margin-right:-1.701px;transform:scaleX(0.814)">T</s><s style="width:13.360px;margin-left:0.480px;margin-right:-1.840px;transform:scaleX(0.826)">H</s> <s style="width:12.339px;margin-left:0.440px;margin-right:-1.779px;transform:scaleX(0.820)">B</s><s style="width:12.339px;margin-left:0.480px;margin-right:-0.819px;transform:scaleX(0.895)">A</s><s style="width:11.301px;margin-left:0.400px;margin-right:-1.701px;transform:scaleX(0.814)">T</s><s style="width:11.301px;margin-left:0.400px;margin-right:-1.701px;transform:scaleX(0.814)">T</s><s style="width:10.289px;margin-left:0.320px;margin-right:-2.609px;transform:scaleX(0.715)">L</s><s style="width:12.339px;margin-left:0.400px;margin-right:-2.739px;transform:scaleX(0.746)">E</s><s style="width:11.301px;margin-left:0.360px;margin-right:-2.661px;transform:scaleX(0.733)">F</s><s style="width:14.390px;margin-left:0.520px;margin-right:-1.910px;transform:scaleX(0.831)">O</s><s style="width:13.360px;margin-left:0.440px;margin-right:-2.800px;transform:scaleX(0.757)">R</s><s style="width:13.360px;margin-left:0.480px;margin-right:-1.840px;transform:scaleX(0.826)">D</s> <s style="width:13.360px;margin-left:0.440px;margin-right:-2.800px;transform:scaleX(0.757)">R</s><s style="width:13.360px;margin-left:0.440px;margin-right:-2.800px;transform:scaleX(0.757)">C</s><s style="width:12.339px;margin-left:0.305px;margin-right:-3.644px;transform:scaleX(0.680)">S</s></p>
<p class="t" style="left:326.50px;top:342px;"><s style="width:10.289px;margin-left:0.400px;margin-right:-0.689px;transform:scaleX(0.894)">2</s><s style="width:10.289px;margin-left:0.400px;margin-right:-0.689px;transform:scaleX(0.894)">6</s><s style="width:10.289px;margin-left:0.400px;margin-right:-0.689px;transform:scaleX(0.894)">5</s><s style="width:5.140px;margin-left:0.200px;margin-right:-0.340px;transform:scaleX(0.895)">.</s><s style="width:10.289px;margin-left:0.400px;margin-right:-0.689px;transform:scaleX(0.894)">8</s></p>
<p class="t" style="left:473.00px;top:342px;"><s style="width:10.289px;margin-left:0.400px;margin-right:-0.689px;transform:scaleX(0.894)">3</s><s style="width:10.289px;margin-left:0.400px;margin-right:-0.689px;transform:scaleX(0.894)">7</s><s style="width:10.289px;margin-left:0.400px;margin-right:-0.689px;transform:scaleX(0.894)">4</s><s style="width:5.140px;margin-left:0.200px;margin-right:-0.340px;transform:scaleX(0.895)">.</s><s style="width:10.289px;margin-left:0.400px;margin-right:-0.689px;transform:scaleX(0.894)">2</s></p>
<p class="t" style="left:634.00px;top:342px;"><s style="width:10.289px;margin-left:0.400px;margin-right:-0.689px;transform:scaleX(0.894)">7</s><s style="width:10.289px;margin-left:0.400px;margin-right:-0.689px;transform:scaleX(0.894)">1</s></p>
<p class="t" style="left:765.50px;top:342px;word-spacing:-0.140px;"><s style="width:10.289px;margin-left:0.400px;margin-right:-0.689px;transform:scaleX(0.894)">3</s> <s style="width:10.289px;margin-left:0.440px;margin-right:0.271px;transform:scaleX(0.984)">d</s><s style="width:6.161px;margin-left:0.280px;margin-right:0.559px;transform:scaleX(1.045)">r</s><s style="width:4.110px;margin-left:0.200px;margin-right:0.690px;transform:scaleX(1.119)">i</s><s style="width:10.289px;margin-left:0.400px;margin-right:-0.689px;transform:scaleX(0.894)">e</s><s style="width:9.250px;margin-left:0.320px;margin-right:-1.570px;transform:scaleX(0.796)">s</s><s style="width:5.140px;margin-left:0.622px;margin-right:1.238px;transform:scaleX(1.120)">t</s><s style="width:5.140px;margin-left:1.122px;margin-right:1.738px;transform-origin:0 5px;transform:translateY(-1.4px) scale(1.120,1.28)">/</s><s style="width:4.110px;margin-left:0.200px;margin-right:0.690px;transform:scaleX(1.119)">l</s><s style="width:10.289px;margin-left:0.400px;margin-right:-0.689px;transform:scaleX(0.894)">e</s> <s style="width:10.289px;margin-left:0.440px;margin-right:0.271px;transform:scaleX(0.984)">p</s><s style="width:4.110px;margin-left:0.200px;margin-right:0.690px;transform:scaleX(1.119)">l</s><s style="width:10.289px;margin-left:0.440px;margin-right:0.271px;transform:scaleX(0.984)">u</s><s style="width:9.250px;margin-left:0.320px;margin-right:-1.570px;transform:scaleX(0.796)">s</s> <s style="width:9.250px;margin-left:0.320px;margin-right:-1.570px;transform:scaleX(0.796)">s</s><s style="width:10.289px;margin-left:0.400px;margin-right:-0.689px;transform:scaleX(0.894)">e</s><s style="width:9.250px;margin-left:0.320px;margin-right:-1.570px;transform:scaleX(0.796)">c</s></p>
<p class="t" style="left:1004.50px;top:342px;"><s style="width:10.289px;margin-left:0.400px;margin-right:-0.689px;transform:scaleX(0.894)">7</s><s style="width:10.289px;margin-left:0.400px;margin-right:-0.689px;transform:scaleX(0.894)">2</s></p>
<i style="left:23px;top:367px;width:230px;height:48px;background:#a8ccf2"></i>
<i style="left:255px;top:367px;width:188px;height:24px;background:#a8ccf2"></i>
<i style="left:445px;top:367px;width:101px;height:24px;background:#a8ccf2"></i>
<i style="left:548px;top:367px;width:192px;height:24px;background:#a8ccf2"></i>
<i style="left:742px;top:367px;width:204px;height:24px;background:#a8ccf2"></i>
<i style="left:948px;top:367px;width:133px;height:24px;background:#a8ccf2"></i>
<i style="left:1083px;top:367px;width:9px;height:22px;background:#a6ccf0"></i>
<p class="t" style="left:30.90px;top:368px;word-spacing:-0.140px;"><s style="width:12.339px;margin-left:0.400px;margin-right:-2.739px;transform:scaleX(0.746)">P</s><s style="width:13.360px;margin-left:0.440px;margin-right:-2.800px;transform:scaleX(0.757)">R</s><s style="width:5.140px;margin-left:0.200px;margin-right:-0.340px;transform:scaleX(0.895)">I</s><s style="width:13.360px;margin-left:0.520px;margin-right:-0.880px;transform:scaleX(0.895)">N</s><s style="width:13.360px;margin-left:0.440px;margin-right:-2.800px;transform:scaleX(0.757)">C</s><s style="width:12.339px;margin-left:0.400px;margin-right:-2.739px;transform:scaleX(0.746)">E</s> <s style="width:12.339px;margin-left:0.480px;margin-right:-0.819px;transform:scaleX(0.895)">A</s><s style="width:10.289px;margin-left:0.320px;margin-right:-2.609px;transform:scaleX(0.715)">L</s><s style="width:12.339px;margin-left:0.440px;margin-right:-1.779px;transform:scaleX(0.820)">B</s><s style="width:12.339px;margin-left:0.400px;margin-right:-2.739px;transform:scaleX(0.746)">E</s><s style="width:13.360px;margin-left:0.440px;margin-right:-2.800px;transform:scaleX(0.757)">R</s><s style="width:11.301px;margin-left:0.400px;margin-right:-1.701px;transform:scaleX(0.814)">T</s> <s style="width:14.390px;margin-left:0.520px;margin-right:-1.910px;transform:scaleX(0.831)">G</s><s style="width:10.289px;margin-left:0.320px;margin-right:-2.609px;transform:scaleX(0.715)">L</s><s style="width:12.339px;margin-left:0.480px;margin-right:-0.819px;transform:scaleX(0.895)">A</s><s style="width:12.339px;margin-left:0.305px;margin-right:-3.644px;transform:scaleX(0.680)">S</s><s style="width:12.339px;margin-left:0.305px;margin-right:-3.644px;transform:scaleX(0.680)">S</s></p>
<p class="t" style="left:30.90px;top:392px;"><s style="width:11.301px;margin-left:0.360px;margin-right:-2.661px;transform:scaleX(0.733)">F</s><s style="width:5.140px;margin-left:0.200px;margin-right:-0.340px;transform:scaleX(0.895)">I</s><s style="width:12.339px;margin-left:0.400px;margin-right:-2.739px;transform:scaleX(0.746)">E</s><s style="width:10.289px;margin-left:0.320px;margin-right:-2.609px;transform:scaleX(0.715)">L</s><s style="width:13.360px;margin-left:0.480px;margin-right:-1.840px;transform:scaleX(0.826)">D</s></p>
<p class="t" style="left:326.50px;top:368px;"><s style="width:10.289px;margin-left:0.400px;margin-right:-0.689px;transform:scaleX(0.894)">3</s><s style="width:10.289px;margin-left:0.400px;margin-right:-0.689px;transform:scaleX(0.894)">6</s><s style="width:10.289px;margin-left:0.400px;margin-right:-0.689px;transform:scaleX(0.894)">6</s><s style="width:5.140px;margin-left:0.200px;margin-right:-0.340px;transform:scaleX(0.895)">.</s><s style="width:10.289px;margin-left:0.400px;margin-right:-0.689px;transform:scaleX(0.894)">8</s></p>
<p class="t" style="left:473.00px;top:368px;"><s style="width:10.289px;margin-left:0.400px;margin-right:-0.689px;transform:scaleX(0.894)">4</s><s style="width:10.289px;margin-left:0.400px;margin-right:-0.689px;transform:scaleX(0.894)">2</s><s style="width:10.289px;margin-left:0.400px;margin-right:-0.689px;transform:scaleX(0.894)">7</s><s style="width:5.140px;margin-left:0.200px;margin-right:-0.340px;transform:scaleX(0.895)">.</s><s style="width:10.289px;margin-left:0.400px;margin-right:-0.689px;transform:scaleX(0.894)">8</s></p>
<p class="t" style="left:634.00px;top:368px;"><s style="width:10.289px;margin-left:0.400px;margin-right:-0.689px;transform:scaleX(0.894)">8</s><s style="width:10.289px;margin-left:0.400px;margin-right:-0.689px;transform:scaleX(0.894)">6</s></p>
<p class="t" style="left:760.50px;top:368px;word-spacing:-0.140px;"><s style="width:10.289px;margin-left:0.400px;margin-right:-0.689px;transform:scaleX(0.894)">4</s><s style="width:10.289px;margin-left:0.400px;margin-right:-0.689px;transform:scaleX(0.894)">0</s> <s style="width:10.289px;margin-left:0.440px;margin-right:0.271px;transform:scaleX(0.984)">d</s><s style="width:6.161px;margin-left:0.280px;margin-right:0.559px;transform:scaleX(1.045)">r</s><s style="width:4.110px;margin-left:0.200px;margin-right:0.690px;transform:scaleX(1.119)">i</s><s style="width:10.289px;margin-left:0.400px;margin-right:-0.689px;transform:scaleX(0.894)">e</s><s style="width:9.250px;margin-left:0.320px;margin-right:-1.570px;transform:scaleX(0.796)">s</s><s style="width:5.140px;margin-left:0.622px;margin-right:1.238px;transform:scaleX(1.120)">t</s><s style="width:5.140px;margin-left:1.122px;margin-right:1.738px;transform-origin:0 5px;transform:translateY(-1.4px) scale(1.120,1.28)">/</s><s style="width:4.110px;margin-left:0.200px;margin-right:0.690px;transform:scaleX(1.119)">l</s><s style="width:10.289px;margin-left:0.400px;margin-right:-0.689px;transform:scaleX(0.894)">e</s> <s style="width:10.289px;margin-left:0.440px;margin-right:0.271px;transform:scaleX(0.984)">p</s><s style="width:4.110px;margin-left:0.200px;margin-right:0.690px;transform:scaleX(1.119)">l</s><s style="width:10.289px;margin-left:0.440px;margin-right:0.271px;transform:scaleX(0.984)">u</s><s style="width:9.250px;margin-left:0.320px;margin-right:-1.570px;transform:scaleX(0.796)">s</s> <s style="width:9.250px;margin-left:0.320px;margin-right:-1.570px;transform:scaleX(0.796)">s</s><s style="width:10.289px;margin-left:0.400px;margin-right:-0.689px;transform:scaleX(0.894)">e</s><s style="width:9.250px;margin-left:0.320px;margin-right:-1.570px;transform:scaleX(0.796)">c</s></p>
<p class="t" style="left:999.50px;top:368px;"><s style="width:10.289px;margin-left:0.400px;margin-right:-0.689px;transform:scaleX(0.894)">1</s><s style="width:10.289px;margin-left:0.400px;margin-right:-0.689px;transform:scaleX(0.894)">2</s><s style="width:10.289px;margin-left:0.400px;margin-right:-0.689px;transform:scaleX(0.894)">8</s></p>
<i style="left:23px;top:417px;width:230px;height:24px;background:#a8ccf2"></i>
<i style="left:255px;top:417px;width:188px;height:24px;background:#a8ccf2"></i>
<i style="left:445px;top:417px;width:101px;height:24px;background:#a8ccf2"></i>
<i style="left:548px;top:417px;width:192px;height:24px;background:#a8ccf2"></i>
<i style="left:742px;top:417px;width:204px;height:48px;background:#a8ccf2"></i>
<i style="left:948px;top:417px;width:133px;height:24px;background:#a8ccf2"></i>
<i style="left:1083px;top:417px;width:9px;height:22px;background:#a6ccf0"></i>
<p class="t" style="left:30.90px;top:418px;word-spacing:-0.140px;"><s style="width:13.360px;margin-left:0.440px;margin-right:-2.800px;transform:scaleX(0.757)">R</s><s style="width:12.339px;margin-left:0.400px;margin-right:-2.739px;transform:scaleX(0.746)">E</s><s style="width:14.390px;margin-left:0.520px;margin-right:-1.910px;transform:scaleX(0.831)">G</s><s style="width:5.140px;margin-left:0.200px;margin-right:-0.340px;transform:scaleX(0.895)">I</s><s style="width:13.360px;margin-left:0.520px;margin-right:-0.880px;transform:scaleX(0.895)">N</s><s style="width:12.339px;margin-left:0.480px;margin-right:-0.819px;transform:scaleX(0.895)">A</s> <s style="width:13.360px;margin-left:0.440px;margin-right:-2.800px;transform:scaleX(0.757)">R</s><s style="width:13.360px;margin-left:0.440px;margin-right:-2.800px;transform:scaleX(0.757)">C</s><s style="width:12.339px;margin-left:0.305px;margin-right:-3.644px;transform:scaleX(0.680)">S</s></p>
<p class="t" style="left:326.50px;top:418px;"><s style="width:10.289px;margin-left:0.400px;margin-right:-0.689px;transform:scaleX(0.894)">3</s><s style="width:10.289px;margin-left:0.400px;margin-right:-0.689px;transform:scaleX(0.894)">7</s><s style="width:10.289px;margin-left:0.400px;margin-right:-0.689px;transform:scaleX(0.894)">5</s><s style="width:5.140px;margin-left:0.200px;margin-right:-0.340px;transform:scaleX(0.895)">.</s><s style="width:10.289px;margin-left:0.400px;margin-right:-0.689px;transform:scaleX(0.894)">5</s></p>
<p class="t" style="left:473.00px;top:418px;"><s style="width:10.289px;margin-left:0.400px;margin-right:-0.689px;transform:scaleX(0.894)">3</s><s style="width:10.289px;margin-left:0.400px;margin-right:-0.689px;transform:scaleX(0.894)">8</s><s style="width:10.289px;margin-left:0.400px;margin-right:-0.689px;transform:scaleX(0.894)">9</s><s style="width:5.140px;margin-left:0.200px;margin-right:-0.340px;transform:scaleX(0.895)">.</s><s style="width:10.289px;margin-left:0.400px;margin-right:-0.689px;transform:scaleX(0.894)">7</s></p>
<p class="t" style="left:634.00px;top:418px;"><s style="width:10.289px;margin-left:0.400px;margin-right:-0.689px;transform:scaleX(0.894)">9</s><s style="width:10.289px;margin-left:0.400px;margin-right:-0.689px;transform:scaleX(0.894)">6</s></p>
<p class="t" style="left:768.50px;top:418px;word-spacing:-0.140px;"><s style="width:10.289px;margin-left:0.400px;margin-right:-0.689px;transform:scaleX(0.894)">6</s><s style="width:10.289px;margin-left:0.400px;margin-right:-0.689px;transform:scaleX(0.894)">3</s> <s style="width:13.360px;margin-left:0.560px;margin-right:0.080px;transform:scaleX(0.964)">w</s><s style="width:10.289px;margin-left:0.400px;margin-right:-0.689px;transform:scaleX(0.894)">e</s><s style="width:5.140px;margin-left:0.622px;margin-right:1.238px;transform:scaleX(1.120)">t</s><s style="width:5.140px;margin-left:0.622px;margin-right:1.238px;transform:scaleX(1.120)">t</s><s style="width:10.289px;margin-left:0.400px;margin-right:-0.689px;transform:scaleX(0.894)">e</s><s style="width:9.250px;margin-left:0.320px;margin-right:-1.570px;transform:scaleX(0.796)">s</s><s style="width:5.140px;margin-left:0.622px;margin-right:1.238px;transform:scaleX(1.120)">t</s><s style="width:5.140px;margin-left:1.122px;margin-right:1.738px;transform-origin:0 5px;transform:translateY(-1.4px) scale(1.120,1.28)">/</s><s style="width:4.110px;margin-left:0.200px;margin-right:0.690px;transform:scaleX(1.119)">l</s><s style="width:10.289px;margin-left:0.400px;margin-right:-0.689px;transform:scaleX(0.894)">e</s> <s style="width:10.289px;margin-left:0.440px;margin-right:0.271px;transform:scaleX(0.984)">p</s><s style="width:4.110px;margin-left:0.200px;margin-right:0.690px;transform:scaleX(1.119)">l</s><s style="width:10.289px;margin-left:0.440px;margin-right:0.271px;transform:scaleX(0.984)">u</s><s style="width:9.250px;margin-left:0.320px;margin-right:-1.570px;transform:scaleX(0.796)">s</s></p>
<p class="t" style="left:822.00px;top:442px;"><s style="width:10.289px;margin-left:0.400px;margin-right:-0.689px;transform:scaleX(0.894)">é</s><s style="width:4.110px;margin-left:0.200px;margin-right:0.690px;transform:scaleX(1.119)">l</s><s style="width:10.289px;margin-left:0.400px;margin-right:-0.689px;transform:scaleX(0.894)">e</s><s style="width:9.250px;margin-left:0.360px;margin-right:-0.610px;transform:scaleX(0.895)">v</s><s style="width:10.289px;margin-left:0.400px;margin-right:-0.689px;transform:scaleX(0.894)">é</s></p>
<p class="t" style="left:999.50px;top:418px;"><s style="width:10.289px;margin-left:0.400px;margin-right:-0.689px;transform:scaleX(0.894)">1</s><s style="width:10.289px;margin-left:0.400px;margin-right:-0.689px;transform:scaleX(0.894)">2</s><s style="width:10.289px;margin-left:0.400px;margin-right:-0.689px;transform:scaleX(0.894)">9</s></p>
<i style="left:23px;top:467px;width:230px;height:24px;background:#a8ccf2"></i>
<i style="left:255px;top:467px;width:188px;height:24px;background:#a8ccf2"></i>
<i style="left:445px;top:467px;width:101px;height:24px;background:#a8ccf2"></i>
<i style="left:548px;top:467px;width:192px;height:24px;background:#a8ccf2"></i>
<i style="left:742px;top:467px;width:204px;height:24px;background:#a8a64e"></i>
<i style="left:948px;top:467px;width:133px;height:24px;background:#a8ccf2"></i>
<i style="left:1083px;top:467px;width:9px;height:22px;background:#a6ccf0"></i>
<p class="t" style="left:30.90px;top:468px;word-spacing:-0.140px;"><s style="width:12.339px;margin-left:0.305px;margin-right:-3.644px;transform:scaleX(0.680)">S</s><s style="width:12.339px;margin-left:0.480px;margin-right:-0.819px;transform:scaleX(0.895)">A</s><s style="width:12.339px;margin-left:0.305px;margin-right:-3.644px;transform:scaleX(0.680)">S</s><s style="width:12.339px;margin-left:0.400px;margin-right:-2.739px;transform:scaleX(0.746)">K</s><s style="width:12.339px;margin-left:0.480px;margin-right:-0.819px;transform:scaleX(0.895)">A</s><s style="width:11.301px;margin-left:0.400px;margin-right:-1.701px;transform:scaleX(0.814)">T</s><s style="width:14.390px;margin-left:0.520px;margin-right:-1.910px;transform:scaleX(0.831)">O</s><s style="width:14.390px;margin-left:0.520px;margin-right:-1.910px;transform:scaleX(0.831)">O</s><s style="width:13.360px;margin-left:0.520px;margin-right:-0.880px;transform:scaleX(0.895)">N</s> <s style="width:13.360px;margin-left:0.440px;margin-right:-2.800px;transform:scaleX(0.757)">R</s><s style="width:13.360px;margin-left:0.440px;margin-right:-2.800px;transform:scaleX(0.757)">C</s><s style="width:12.339px;margin-left:0.305px;margin-right:-3.644px;transform:scaleX(0.680)">S</s></p>
<p class="t" style="left:326.50px;top:468px;"><s style="width:10.289px;margin-left:0.400px;margin-right:-0.689px;transform:scaleX(0.894)">2</s><s style="width:10.289px;margin-left:0.400px;margin-right:-0.689px;transform:scaleX(0.894)">6</s><s style="width:10.289px;margin-left:0.400px;margin-right:-0.689px;transform:scaleX(0.894)">6</s><s style="width:5.140px;margin-left:0.200px;margin-right:-0.340px;transform:scaleX(0.895)">.</s><s style="width:10.289px;margin-left:0.400px;margin-right:-0.689px;transform:scaleX(0.894)">7</s></p>
<p class="t" style="left:473.00px;top:468px;"><s style="width:10.289px;margin-left:0.400px;margin-right:-0.689px;transform:scaleX(0.894)">3</s><s style="width:10.289px;margin-left:0.400px;margin-right:-0.689px;transform:scaleX(0.894)">5</s><s style="width:10.289px;margin-left:0.400px;margin-right:-0.689px;transform:scaleX(0.894)">3</s><s style="width:5.140px;margin-left:0.200px;margin-right:-0.340px;transform:scaleX(0.895)">.</s><s style="width:10.289px;margin-left:0.400px;margin-right:-0.689px;transform:scaleX(0.894)">7</s></p>
<p class="t" style="left:634.00px;top:468px;"><s style="width:10.289px;margin-left:0.400px;margin-right:-0.689px;transform:scaleX(0.894)">7</s><s style="width:10.289px;margin-left:0.400px;margin-right:-0.689px;transform:scaleX(0.894)">5</s></p>
<p class="t" style="left:760.50px;top:468px;word-spacing:-0.140px;"><s style="width:10.289px;margin-left:0.400px;margin-right:-0.689px;transform:scaleX(0.894)">1</s><s style="width:10.289px;margin-left:0.400px;margin-right:-0.689px;transform:scaleX(0.894)">0</s> <s style="width:10.289px;margin-left:0.440px;margin-right:0.271px;transform:scaleX(0.984)">d</s><s style="width:6.161px;margin-left:0.280px;margin-right:0.559px;transform:scaleX(1.045)">r</s><s style="width:4.110px;margin-left:0.200px;margin-right:0.690px;transform:scaleX(1.119)">i</s><s style="width:10.289px;margin-left:0.400px;margin-right:-0.689px;transform:scaleX(0.894)">e</s><s style="width:9.250px;margin-left:0.320px;margin-right:-1.570px;transform:scaleX(0.796)">s</s><s style="width:5.140px;margin-left:0.622px;margin-right:1.238px;transform:scaleX(1.120)">t</s><s style="width:5.140px;margin-left:1.122px;margin-right:1.738px;transform-origin:0 5px;transform:translateY(-1.4px) scale(1.120,1.28)">/</s><s style="width:4.110px;margin-left:0.200px;margin-right:0.690px;transform:scaleX(1.119)">l</s><s style="width:10.289px;margin-left:0.400px;margin-right:-0.689px;transform:scaleX(0.894)">e</s> <s style="width:10.289px;margin-left:0.440px;margin-right:0.271px;transform:scaleX(0.984)">p</s><s style="width:4.110px;margin-left:0.200px;margin-right:0.690px;transform:scaleX(1.119)">l</s><s style="width:10.289px;margin-left:0.440px;margin-right:0.271px;transform:scaleX(0.984)">u</s><s style="width:9.250px;margin-left:0.320px;margin-right:-1.570px;transform:scaleX(0.796)">s</s> <s style="width:9.250px;margin-left:0.320px;margin-right:-1.570px;transform:scaleX(0.796)">s</s><s style="width:10.289px;margin-left:0.400px;margin-right:-0.689px;transform:scaleX(0.894)">e</s><s style="width:9.250px;margin-left:0.320px;margin-right:-1.570px;transform:scaleX(0.796)">c</s></p>
<p class="t" style="left:999.50px;top:468px;"><s style="width:10.289px;margin-left:0.400px;margin-right:-0.689px;transform:scaleX(0.894)">1</s><s style="width:10.289px;margin-left:0.400px;margin-right:-0.689px;transform:scaleX(0.894)">1</s><s style="width:10.289px;margin-left:0.400px;margin-right:-0.689px;transform:scaleX(0.894)">2</s></p>
<i style="left:23px;top:493px;width:230px;height:24px;background:#a8ccf2"></i>
<i style="left:255px;top:493px;width:188px;height:24px;background:#a8ccf2"></i>
<i style="left:445px;top:493px;width:101px;height:24px;background:#a8ccf2"></i>
<i style="left:548px;top:493px;width:192px;height:24px;background:#a8ccf2"></i>
<i style="left:742px;top:493px;width:204px;height:48px;background:#a8ccf2"></i>
<i style="left:948px;top:493px;width:133px;height:24px;background:#a8ccf2"></i>
<i style="left:1083px;top:493px;width:9px;height:22px;background:#a6ccf0"></i>
<p class="t" style="left:30.90px;top:494px;word-spacing:-0.140px;"><s style="width:12.339px;margin-left:0.305px;margin-right:-3.644px;transform:scaleX(0.680)">S</s><s style="width:17.461px;margin-left:0.720px;margin-right:-0.181px;transform:scaleX(0.948)">W</s><s style="width:5.140px;margin-left:0.200px;margin-right:-0.340px;transform:scaleX(0.895)">I</s><s style="width:11.301px;margin-left:0.360px;margin-right:-2.661px;transform:scaleX(0.733)">F</s><s style="width:11.301px;margin-left:0.400px;margin-right:-1.701px;transform:scaleX(0.814)">T</s> <s style="width:13.360px;margin-left:0.440px;margin-right:-2.800px;transform:scaleX(0.757)">C</s><s style="width:13.360px;margin-left:0.520px;margin-right:-0.880px;transform:scaleX(0.895)">U</s><s style="width:13.360px;margin-left:0.440px;margin-right:-2.800px;transform:scaleX(0.757)">R</s><s style="width:13.360px;margin-left:0.440px;margin-right:-2.800px;transform:scaleX(0.757)">R</s><s style="width:12.339px;margin-left:0.400px;margin-right:-2.739px;transform:scaleX(0.746)">E</s><s style="width:13.360px;margin-left:0.520px;margin-right:-0.880px;transform:scaleX(0.895)">N</s><s style="width:11.301px;margin-left:0.400px;margin-right:-1.701px;transform:scaleX(0.814)">T</s> <s style="width:13.360px;margin-left:0.440px;margin-right:-2.800px;transform:scaleX(0.757)">C</s><s style="width:13.360px;margin-left:0.480px;margin-right:-1.840px;transform:scaleX(0.826)">D</s><s style="width:12.339px;margin-left:0.480px;margin-right:-0.819px;transform:scaleX(0.895)">A</s></p>
<p class="t" style="left:326.50px;top:494px;"><s style="width:10.289px;margin-left:0.400px;margin-right:-0.689px;transform:scaleX(0.894)">3</s><s style="width:10.289px;margin-left:0.400px;margin-right:-0.689px;transform:scaleX(0.894)">6</s><s style="width:10.289px;margin-left:0.400px;margin-right:-0.689px;transform:scaleX(0.894)">8</s><s style="width:5.140px;margin-left:0.200px;margin-right:-0.340px;transform:scaleX(0.895)">.</s><s style="width:10.289px;margin-left:0.400px;margin-right:-0.689px;transform:scaleX(0.894)">1</s></p>
<p class="t" style="left:473.00px;top:494px;"><s style="width:10.289px;margin-left:0.400px;margin-right:-0.689px;transform:scaleX(0.894)">3</s><s style="width:10.289px;margin-left:0.400px;margin-right:-0.689px;transform:scaleX(0.894)">5</s><s style="width:10.289px;margin-left:0.400px;margin-right:-0.689px;transform:scaleX(0.894)">7</s><s style="width:5.140px;margin-left:0.200px;margin-right:-0.340px;transform:scaleX(0.895)">.</s><s style="width:10.289px;margin-left:0.400px;margin-right:-0.689px;transform:scaleX(0.894)">4</s></p>
<p class="t" style="left:629.00px;top:494px;"><s style="width:10.289px;margin-left:0.400px;margin-right:-0.689px;transform:scaleX(0.894)">1</s><s style="width:10.289px;margin-left:0.400px;margin-right:-0.689px;transform:scaleX(0.894)">0</s><s style="width:10.289px;margin-left:0.400px;margin-right:-0.689px;transform:scaleX(0.894)">3</s></p>
<p class="t" style="left:768.50px;top:494px;word-spacing:-0.140px;"><s style="width:10.289px;margin-left:0.400px;margin-right:-0.689px;transform:scaleX(0.894)">6</s><s style="width:10.289px;margin-left:0.400px;margin-right:-0.689px;transform:scaleX(0.894)">4</s> <s style="width:13.360px;margin-left:0.560px;margin-right:0.080px;transform:scaleX(0.964)">w</s><s style="width:10.289px;margin-left:0.400px;margin-right:-0.689px;transform:scaleX(0.894)">e</s><s style="width:5.140px;margin-left:0.622px;margin-right:1.238px;transform:scaleX(1.120)">t</s><s style="width:5.140px;margin-left:0.622px;margin-right:1.238px;transform:scaleX(1.120)">t</s><s style="width:10.289px;margin-left:0.400px;margin-right:-0.689px;transform:scaleX(0.894)">e</s><s style="width:9.250px;margin-left:0.320px;margin-right:-1.570px;transform:scaleX(0.796)">s</s><s style="width:5.140px;margin-left:0.622px;margin-right:1.238px;transform:scaleX(1.120)">t</s><s style="width:5.140px;margin-left:1.122px;margin-right:1.738px;transform-origin:0 5px;transform:translateY(-1.4px) scale(1.120,1.28)">/</s><s style="width:4.110px;margin-left:0.200px;margin-right:0.690px;transform:scaleX(1.119)">l</s><s style="width:10.289px;margin-left:0.400px;margin-right:-0.689px;transform:scaleX(0.894)">e</s> <s style="width:10.289px;margin-left:0.440px;margin-right:0.271px;transform:scaleX(0.984)">p</s><s style="width:4.110px;margin-left:0.200px;margin-right:0.690px;transform:scaleX(1.119)">l</s><s style="width:10.289px;margin-left:0.440px;margin-right:0.271px;transform:scaleX(0.984)">u</s><s style="width:9.250px;margin-left:0.320px;margin-right:-1.570px;transform:scaleX(0.796)">s</s></p>
<p class="t" style="left:822.00px;top:518px;"><s style="width:10.289px;margin-left:0.400px;margin-right:-0.689px;transform:scaleX(0.894)">é</s><s style="width:4.110px;margin-left:0.200px;margin-right:0.690px;transform:scaleX(1.119)">l</s><s style="width:10.289px;margin-left:0.400px;margin-right:-0.689px;transform:scaleX(0.894)">e</s><s style="width:9.250px;margin-left:0.360px;margin-right:-0.610px;transform:scaleX(0.895)">v</s><s style="width:10.289px;margin-left:0.400px;margin-right:-0.689px;transform:scaleX(0.894)">é</s></p>
<p class="t" style="left:999.50px;top:494px;"><s style="width:10.289px;margin-left:0.400px;margin-right:-0.689px;transform:scaleX(0.894)">1</s><s style="width:10.289px;margin-left:0.400px;margin-right:-0.689px;transform:scaleX(0.894)">3</s><s style="width:10.289px;margin-left:0.400px;margin-right:-0.689px;transform:scaleX(0.894)">3</s></p>
<i style="left:23px;top:543px;width:230px;height:24px;background:#a8ccf2"></i>
<i style="left:255px;top:543px;width:188px;height:24px;background:#a8ccf2"></i>
<i style="left:445px;top:543px;width:101px;height:24px;background:#a8ccf2"></i>
<i style="left:548px;top:543px;width:192px;height:24px;background:#a8ccf2"></i>
<i style="left:742px;top:543px;width:204px;height:24px;background:#a8a64e"></i>
<i style="left:948px;top:543px;width:133px;height:24px;background:#a8ccf2"></i>
<i style="left:1083px;top:543px;width:9px;height:22px;background:#a6ccf0"></i>
<p class="t" style="left:30.90px;top:544px;"><s style="width:12.339px;margin-left:0.400px;margin-right:-2.739px;transform:scaleX(0.746)">Y</s><s style="width:14.390px;margin-left:0.520px;margin-right:-1.910px;transform:scaleX(0.831)">O</s><s style="width:13.360px;margin-left:0.440px;margin-right:-2.800px;transform:scaleX(0.757)">R</s><s style="width:12.339px;margin-left:0.400px;margin-right:-2.739px;transform:scaleX(0.746)">K</s><s style="width:11.301px;margin-left:0.400px;margin-right:-1.701px;transform:scaleX(0.814)">T</s><s style="width:14.390px;margin-left:0.520px;margin-right:-1.910px;transform:scaleX(0.831)">O</s><s style="width:13.360px;margin-left:0.520px;margin-right:-0.880px;transform:scaleX(0.895)">N</s></p>
<p class="t" style="left:326.50px;top:544px;"><s style="width:10.289px;margin-left:0.400px;margin-right:-0.689px;transform:scaleX(0.894)">2</s><s style="width:10.289px;margin-left:0.400px;margin-right:-0.689px;transform:scaleX(0.894)">8</s><s style="width:10.289px;margin-left:0.400px;margin-right:-0.689px;transform:scaleX(0.894)">3</s><s style="width:5.140px;margin-left:0.200px;margin-right:-0.340px;transform:scaleX(0.895)">.</s><s style="width:10.289px;margin-left:0.400px;margin-right:-0.689px;transform:scaleX(0.894)">3</s></p>
<p class="t" style="left:473.00px;top:544px;"><s style="width:10.289px;margin-left:0.400px;margin-right:-0.689px;transform:scaleX(0.894)">4</s><s style="width:10.289px;margin-left:0.400px;margin-right:-0.689px;transform:scaleX(0.894)">4</s><s style="width:10.289px;margin-left:0.400px;margin-right:-0.689px;transform:scaleX(0.894)">9</s><s style="width:5.140px;margin-left:0.200px;margin-right:-0.340px;transform:scaleX(0.895)">.</s><s style="width:10.289px;margin-left:0.400px;margin-right:-0.689px;transform:scaleX(0.894)">4</s></p>
<p class="t" style="left:634.00px;top:544px;"><s style="width:10.289px;margin-left:0.400px;margin-right:-0.689px;transform:scaleX(0.894)">6</s><s style="width:10.289px;margin-left:0.400px;margin-right:-0.689px;transform:scaleX(0.894)">3</s></p>
<p class="t" style="left:765.50px;top:544px;word-spacing:-0.140px;"><s style="width:10.289px;margin-left:0.400px;margin-right:-0.689px;transform:scaleX(0.894)">5</s> <s style="width:10.289px;margin-left:0.440px;margin-right:0.271px;transform:scaleX(0.984)">d</s><s style="width:6.161px;margin-left:0.280px;margin-right:0.559px;transform:scaleX(1.045)">r</s><s style="width:4.110px;margin-left:0.200px;margin-right:0.690px;transform:scaleX(1.119)">i</s><s style="width:10.289px;margin-left:0.400px;margin-right:-0.689px;transform:scaleX(0.894)">e</s><s style="width:9.250px;margin-left:0.320px;margin-right:-1.570px;transform:scaleX(0.796)">s</s><s style="width:5.140px;margin-left:0.622px;margin-right:1.238px;transform:scaleX(1.120)">t</s><s style="width:5.140px;margin-left:1.122px;margin-right:1.738px;transform-origin:0 5px;transform:translateY(-1.4px) scale(1.120,1.28)">/</s><s style="width:4.110px;margin-left:0.200px;margin-right:0.690px;transform:scaleX(1.119)">l</s><s style="width:10.289px;margin-left:0.400px;margin-right:-0.689px;transform:scaleX(0.894)">e</s> <s style="width:10.289px;margin-left:0.440px;margin-right:0.271px;transform:scaleX(0.984)">p</s><s style="width:4.110px;margin-left:0.200px;margin-right:0.690px;transform:scaleX(1.119)">l</s><s style="width:10.289px;margin-left:0.440px;margin-right:0.271px;transform:scaleX(0.984)">u</s><s style="width:9.250px;margin-left:0.320px;margin-right:-1.570px;transform:scaleX(0.796)">s</s> <s style="width:9.250px;margin-left:0.320px;margin-right:-1.570px;transform:scaleX(0.796)">s</s><s style="width:10.289px;margin-left:0.400px;margin-right:-0.689px;transform:scaleX(0.894)">e</s><s style="width:9.250px;margin-left:0.320px;margin-right:-1.570px;transform:scaleX(0.796)">c</s></p>
<p class="t" style="left:1004.50px;top:544px;"><s style="width:10.289px;margin-left:0.400px;margin-right:-0.689px;transform:scaleX(0.894)">7</s><s style="width:10.289px;margin-left:0.400px;margin-right:-0.689px;transform:scaleX(0.894)">7</s></p>
<i style="left:21px;top:37px;width:1062px;height:2px;background:#000"></i>
<i style="left:21px;top:161px;width:1062px;height:2px;background:#000"></i>
<i style="left:21px;top:211px;width:1062px;height:2px;background:#000"></i>
<i style="left:21px;top:237px;width:1062px;height:2px;background:#000"></i>
<i style="left:21px;top:263px;width:1062px;height:2px;background:#000"></i>
<i style="left:21px;top:289px;width:1062px;height:2px;background:#000"></i>
<i style="left:21px;top:339px;width:1062px;height:2px;background:#000"></i>
<i style="left:21px;top:365px;width:1062px;height:2px;background:#000"></i>
<i style="left:21px;top:415px;width:1062px;height:2px;background:#000"></i>
<i style="left:21px;top:465px;width:1062px;height:2px;background:#000"></i>
<i style="left:21px;top:491px;width:1062px;height:2px;background:#000"></i>
<i style="left:21px;top:541px;width:1062px;height:2px;background:#000"></i>
<i style="left:21px;top:567px;width:1062px;height:2px;background:#000"></i>
<i style="left:21px;top:37px;width:2px;height:532px;background:#000"></i>
<i style="left:253px;top:37px;width:2px;height:532px;background:#000"></i>
<i style="left:443px;top:37px;width:2px;height:532px;background:#000"></i>
<i style="left:546px;top:37px;width:2px;height:532px;background:#000"></i>
<i style="left:740px;top:37px;width:2px;height:532px;background:#000"></i>
<i style="left:946px;top:37px;width:2px;height:532px;background:#000"></i>
<i style="left:1081px;top:37px;width:2px;height:532px;background:#000"></i>
</body></html>
